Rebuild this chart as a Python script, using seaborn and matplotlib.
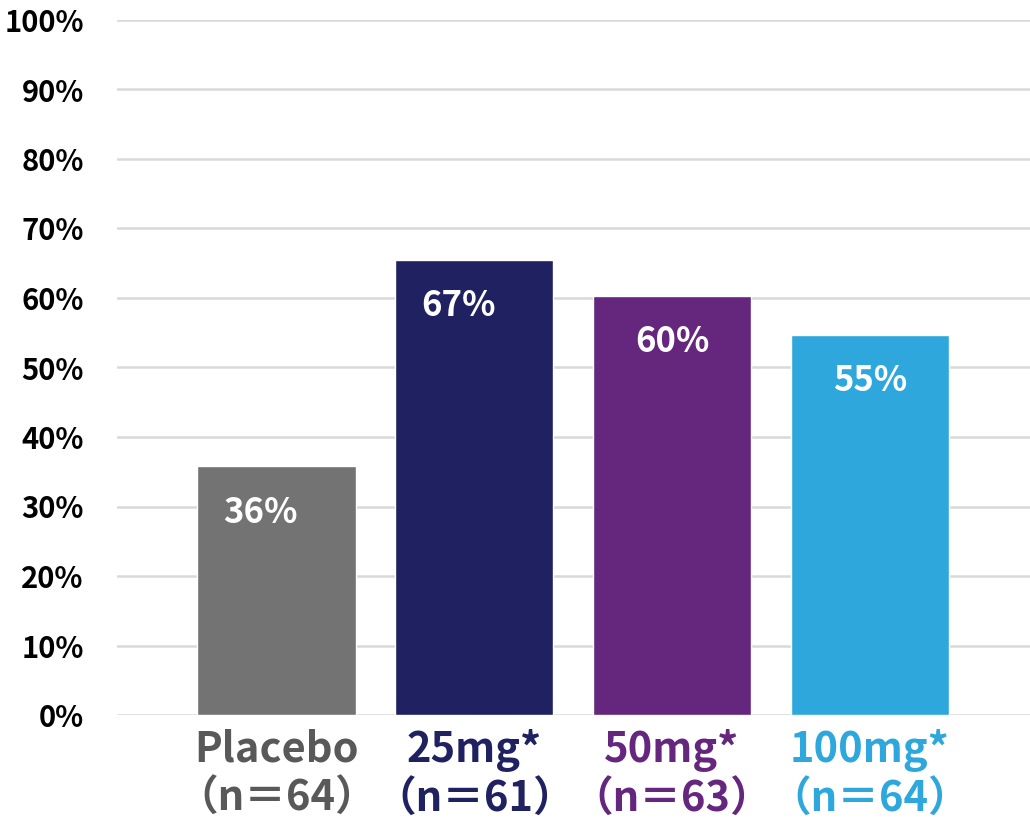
import matplotlib
matplotlib.use("Agg")
import matplotlib.pyplot as plt
import seaborn as sns
import pandas as pd
from matplotlib.ticker import FuncFormatter

categories = ["Placebo\n（n＝64）", "25mg*\n（n＝61）", "50mg*\n（n＝63）", "100mg*\n（n＝64）"]
values = [35.8, 65.5, 60.3, 54.7]
value_labels = ["36%", "67%", "60%", "55%"]
bar_colors = ["#737373", "#1F2160", "#65267E", "#2EA8DC"]
tick_colors = ["#595959", "#1F2160", "#65267E", "#2EA8DC"]
yticks = list(range(0, 101, 10))

sns.set_theme(style="white")
plt.rcParams['font.family'] = ['Noto Sans CJK JP', 'DejaVu Sans']

fig = plt.figure(figsize=(10.3, 8.22), dpi=100)
ax = fig.add_axes([117/1030, 1 - 715/822, 1 - 117/1030, (715 - 20)/822])

df = pd.DataFrame({"cat": categories, "val": values})
sns.barplot(data=df, x="cat", y="val", hue="cat", palette=bar_colors,
            width=0.8, legend=False, ax=ax, saturation=1, zorder=3)

ax.set_ylim(0, 100)
ax.set_xlim(-0.806, 3.81)
ax.set_yticks(yticks)
ax.yaxis.set_major_formatter(FuncFormatter(lambda v, p: f"{int(v)}%"))
ax.grid(axis="y", color="#D9D9D9", linewidth=1.8, zorder=0)
ax.grid(axis="x", visible=False)
for s in ax.spines.values():
    s.set_visible(False)
ax.set_xlabel("")
ax.set_ylabel("")
ax.tick_params(axis="y", length=0, pad=24, labelsize=21)
ax.tick_params(axis="x", length=0, pad=10)
for lbl in ax.get_yticklabels():
    lbl.set_fontweight("bold")
    lbl.set_color("black")
for lbl, c in zip(ax.get_xticklabels(), tick_colors):
    lbl.set_fontweight("bold")
    lbl.set_color(c)
    lbl.set_fontsize(30)
    lbl.set_linespacing(1.2)
    lbl.set_verticalalignment("top")

for i, (v, t) in enumerate(zip(values, value_labels)):
    ax.annotate(t, xy=(i, v), xytext=(-16 if i < 2 else 0, -46), textcoords="offset pixels",
                ha="center", va="center", color="white", fontsize=25,
                fontweight="bold", zorder=5)

fig.savefig("out.png", dpi=100)
